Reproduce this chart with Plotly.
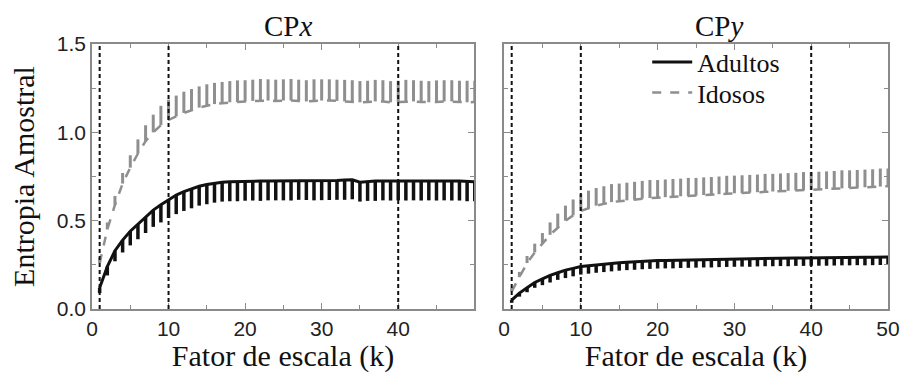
import plotly.graph_objects as go
from plotly.subplots import make_subplots

# Scale factors k = 1..50
scales = list(range(1, 51))

# Sample entropy, CPx (mean values)
cpx_adultos = [0.12, 0.24, 0.33, 0.39, 0.44, 0.48, 0.52, 0.56, 0.59, 0.62,
               0.645, 0.665, 0.68, 0.695, 0.705, 0.712, 0.718, 0.72, 0.722, 0.723,
               0.724, 0.724, 0.725, 0.725, 0.725, 0.726, 0.728, 0.727, 0.727, 0.726,
               0.727, 0.728, 0.730, 0.731, 0.718, 0.722, 0.724, 0.725, 0.724, 0.725,
               0.726, 0.725, 0.724, 0.725, 0.726, 0.725, 0.724, 0.724, 0.722, 0.720]
cpx_adultos_err = [0.03, 0.05, 0.06, 0.07, 0.08, 0.085, 0.09, 0.095, 0.10, 0.105,
                   0.108, 0.11, 0.11, 0.11, 0.112, 0.11, 0.11, 0.11, 0.112, 0.11,
                   0.11, 0.112, 0.11, 0.11, 0.11, 0.112, 0.11, 0.11, 0.112, 0.11,
                   0.11, 0.11, 0.112, 0.11, 0.11, 0.11, 0.112, 0.11, 0.11, 0.11,
                   0.112, 0.11, 0.11, 0.11, 0.112, 0.11, 0.11, 0.11, 0.112, 0.11]
cpx_idosos = [0.26, 0.45, 0.59, 0.71, 0.80, 0.88, 0.95, 1.00, 1.04, 1.07,
              1.09, 1.11, 1.125, 1.14, 1.15, 1.16, 1.165, 1.17, 1.172, 1.175,
              1.178, 1.18, 1.18, 1.178, 1.18, 1.18, 1.178, 1.175, 1.178, 1.18,
              1.18, 1.178, 1.175, 1.175, 1.17, 1.172, 1.175, 1.175, 1.17, 1.172,
              1.175, 1.175, 1.172, 1.17, 1.172, 1.175, 1.175, 1.172, 1.17, 1.172]
cpx_idosos_err = [0.03, 0.04, 0.05, 0.06, 0.07, 0.08, 0.09, 0.10, 0.11, 0.115,
                  0.118, 0.12, 0.12, 0.12, 0.122, 0.12, 0.12, 0.12, 0.122, 0.12,
                  0.12, 0.122, 0.12, 0.12, 0.12, 0.122, 0.12, 0.12, 0.122, 0.12,
                  0.12, 0.12, 0.122, 0.12, 0.12, 0.12, 0.122, 0.12, 0.12, 0.12,
                  0.122, 0.12, 0.12, 0.12, 0.122, 0.12, 0.12, 0.12, 0.122, 0.12]

# Sample entropy, CPy (mean values)
cpy_adultos = [0.05, 0.09, 0.12, 0.15, 0.17, 0.19, 0.205, 0.22, 0.23, 0.24,
               0.245, 0.25, 0.255, 0.258, 0.262, 0.265, 0.268, 0.27, 0.272, 0.274,
               0.275, 0.276, 0.277, 0.278, 0.279, 0.28, 0.281, 0.282, 0.283, 0.284,
               0.285, 0.285, 0.286, 0.287, 0.287, 0.288, 0.288, 0.289, 0.289, 0.29,
               0.29, 0.291, 0.291, 0.292, 0.292, 0.293, 0.293, 0.293, 0.294, 0.294]
cpy_adultos_err = [0.015, 0.02, 0.025, 0.03, 0.035, 0.04, 0.04, 0.045, 0.045, 0.045,
                   0.045, 0.045, 0.046, 0.045, 0.045, 0.045, 0.046, 0.045, 0.045, 0.045,
                   0.045, 0.046, 0.045, 0.045, 0.045, 0.045, 0.046, 0.045, 0.045, 0.045,
                   0.045, 0.046, 0.045, 0.045, 0.045, 0.045, 0.046, 0.045, 0.045, 0.045,
                   0.045, 0.046, 0.045, 0.045, 0.045, 0.045, 0.046, 0.045, 0.045, 0.045]
cpy_idosos = [0.10, 0.18, 0.26, 0.32, 0.37, 0.42, 0.46, 0.50, 0.53, 0.555,
              0.57, 0.585, 0.595, 0.605, 0.61, 0.615, 0.62, 0.625, 0.628, 0.63,
              0.633, 0.636, 0.638, 0.64, 0.642, 0.645, 0.647, 0.65, 0.652, 0.655,
              0.657, 0.659, 0.661, 0.663, 0.665, 0.667, 0.669, 0.671, 0.673, 0.675,
              0.677, 0.679, 0.681, 0.683, 0.685, 0.687, 0.689, 0.691, 0.693, 0.695]
cpy_idosos_err = [0.02, 0.03, 0.04, 0.05, 0.06, 0.07, 0.08, 0.085, 0.09, 0.095,
                  0.1, 0.1, 0.1, 0.102, 0.1, 0.1, 0.1, 0.1, 0.102, 0.1,
                  0.1, 0.1, 0.1, 0.102, 0.1, 0.1, 0.1, 0.1, 0.102, 0.1,
                  0.1, 0.1, 0.1, 0.102, 0.1, 0.1, 0.1, 0.1, 0.102, 0.1,
                  0.1, 0.1, 0.1, 0.102, 0.1, 0.1, 0.1, 0.1, 0.102, 0.1]

# Reference scale factors marked with vertical lines
marked_scales = [1, 10, 40]

panel_titles = ["CP<i>x</i>", "CP<i>y</i>"]
group_names = ["Adultos", "Idosos"]

BLACK = "#111111"
GRAY = "#8f8f8f"
FRAME = "#8a8a8a"
SERIF = "Liberation Serif, Times New Roman, serif"
SANS = "Liberation Sans, Arial, sans-serif"

fig = make_subplots(rows=1, cols=2, shared_yaxes=False, horizontal_spacing=0.0377)
fig.update_layout(xaxis=dict(domain=[0, 0.4799]), xaxis2=dict(domain=[0.5176, 1]))

panels = [
    (cpx_adultos, cpx_adultos_err, cpx_idosos, cpx_idosos_err),
    (cpy_adultos, cpy_adultos_err, cpy_idosos, cpy_idosos_err),
]

for col, (ad, ad_err, ido, ido_err) in enumerate(panels, start=1):
    show = col == 2
    fig.add_trace(go.Scatter(
        x=scales, y=ido, mode="lines", name=group_names[1], legend="legend2",
        showlegend=show,
        line=dict(color=GRAY, width=2.5, dash="dash"),
        error_y=dict(type="data", symmetric=False, array=ido_err,
                     arrayminus=[0] * len(ido_err), color=GRAY, thickness=3, width=0),
    ), row=1, col=col)
    fig.add_trace(go.Scatter(
        x=scales, y=ad, mode="lines", name=group_names[0], legend="legend",
        showlegend=show,
        line=dict(color=BLACK, width=3),
        error_y=dict(type="data", symmetric=False, array=[0] * len(ad_err),
                     arrayminus=ad_err, color=BLACK, thickness=3.5, width=0),
    ), row=1, col=col)
    for k in marked_scales:
        fig.add_shape(type="line", x0=k, x1=k, y0=0, y1=1,
                      xref=f"x{'' if col == 1 else col}",
                      yref=f"y{'' if col == 1 else col} domain",
                      line=dict(color=BLACK, width=2, dash="4px,3px"))

axis_common = dict(
    showgrid=False, zeroline=False, showline=True, linecolor=FRAME, linewidth=1.5,
    mirror="allticks", ticks="inside", ticklen=6, tickcolor=FRAME, tickwidth=1,
    tickfont=dict(family=SANS, size=21, color="#222222"), automargin=False,
)
minor_x = dict(ticks="inside", ticklen=4, tickcolor=FRAME, dtick=5, showgrid=False)
minor_y = dict(ticks="inside", ticklen=4, tickcolor=FRAME, dtick=0.25, showgrid=False)

fig.update_xaxes(axis_common, minor=minor_x)
fig.update_yaxes(axis_common, minor=minor_y, range=[0, 1.5], tickvals=[0, 0.5, 1.0, 1.5],
                 ticktext=["0.0", "0.5", "1.0", "1.5"])
fig.update_xaxes(range=[0, 49.9], tickvals=[0, 10, 20, 30, 40], row=1, col=1)
fig.update_xaxes(range=[0, 50], tickvals=[0, 10, 20, 30, 40, 50], row=1, col=2)
fig.update_yaxes(showticklabels=False, row=1, col=2)

title_font = dict(family=SERIF, size=30, color=BLACK)
fig.update_xaxes(title=dict(text="Fator de escala (k)", font=title_font, standoff=2))
fig.update_yaxes(title=dict(text="Entropia Amostral", font=title_font, standoff=13), row=1, col=1)

for i, t in enumerate(panel_titles):
    fig.add_annotation(text=t, xref="paper", yref="paper",
                       x=[0.2462, 0.7877][i], y=1.0, xanchor="center", yanchor="bottom",
                       yshift=0, showarrow=False,
                       font=dict(family=SERIF, size=29, color=BLACK))

legend_style = dict(xanchor="left", yanchor="middle", bgcolor="rgba(0,0,0,0)",
                    font=dict(family=SERIF, size=26, color=BLACK), itemwidth=40)
fig.update_layout(
    width=900, height=373,
    margin=dict(l=92, r=12, t=44, b=64, autoexpand=False),
    paper_bgcolor="white", plot_bgcolor="white",
    legend=dict(legend_style, x=0.6975, y=0.932),
    legend2=dict(legend_style, x=0.6975, y=0.817),
)

fig.write_html("out.html")
